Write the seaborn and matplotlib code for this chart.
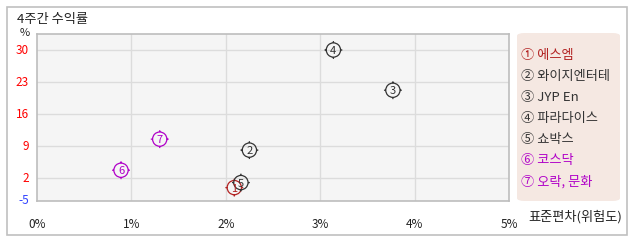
import matplotlib
matplotlib.use("Agg")
import matplotlib.pyplot as plt
import seaborn as sns
import pandas as pd
import numpy as np
from matplotlib.path import Path
from matplotlib.patches import FancyBboxPatch, Rectangle

# ---- data ----
names = ["에스엠", "와이지엔터테", "JYP En", "파라다이스", "쇼박스", "코스닥", "오락, 문화"]
nums = ["1", "2", "3", "4", "5", "6", "7"]
circled = ["①", "②", "③", "④", "⑤", "⑥", "⑦"]
risk = [2.09, 2.25, 3.77, 3.14, 2.16, 0.89, 1.30]      # 표준편차 (%)
ret = [-0.1, 8.1, 21.2, 30.0, 1.0, 3.7, 10.5]          # 4주간 수익률 (%)
colors = ["#b22222", "#333333", "#333333", "#333333", "#333333", "#b000c8", "#b000c8"]
x_ticks = [0, 1, 2, 3, 4, 5]
x_labels = ["0%", "1%", "2%", "3%", "4%", "5%"]
y_ticks = [2, 9, 16, 23, 30]
y_bottom_label = "-5"

sns.set_theme(style="white")
plt.rcParams["font.family"] = ["Noto Sans CJK KR", "DejaVu Sans"]

fig = plt.figure(figsize=(6.38, 2.42), dpi=100)
W, H = 638, 242

def fx(px):
    return px / W

def fy(py):
    return 1 - py / H

# outer border
fig.patches.append(Rectangle((fx(7), fy(235)), fx(627) - fx(7), fy(7) - fy(235),
                             transform=fig.transFigure, fill=False,
                             edgecolor="#c0c0c0", linewidth=1.2))

ax = fig.add_axes([fx(37), fy(201), fx(509) - fx(37), fy(34) - fy(201)])
ax.set_facecolor("#f5f5f5")

df = pd.DataFrame({"name": names, "risk": risk, "ret": ret})

# circle + small tick marker
circ = Path.unit_circle()
t0, t1 = 1.0, 1.25
ticks_verts = [(0, t0), (0, t1), (0, -t0), (0, -t1), (t0, 0), (t1, 0), (-t0, 0), (-t1, 0)]
ticks_codes = [Path.MOVETO, Path.LINETO] * 4
tick_path = Path(ticks_verts, ticks_codes)
marker_path = Path.make_compound_path(circ, tick_path)

sns.scatterplot(data=df, x="risk", y="ret", hue="name", palette=dict(zip(names, colors)),
                marker=marker_path, s=165, linewidth=0.9, legend=False, ax=ax, zorder=3)
coll = ax.collections[-1]
fc = coll.get_facecolors()
coll.set_edgecolors(fc)
coll.set_facecolors("none")

for xv, yv, n, c in zip(risk, ret, nums, colors):
    ax.text(xv, yv, n, color=c, fontsize=8, ha="center", va="center_baseline", zorder=4)

ymin = 2 - 7 * 23 / 32
ax.set_xlim(0, 5)
ax.set_ylim(ymin, 33.5)
ax.set_xticks(x_ticks[1:-1], minor=False)
ax.set_yticks(y_ticks)
ax.grid(True, color="#dcdcdc", linewidth=1.0)
ax.set_axisbelow(True)
ax.set_xticklabels([])
ax.set_yticklabels([])
ax.tick_params(length=0)
for sp in ax.spines.values():
    sp.set_color("#bdbdbd")
    sp.set_linewidth(1.2)
ax.set_xlabel("")
ax.set_ylabel("")

# tick labels
for xv, lab in zip(x_ticks, x_labels):
    ax.text(xv, -0.1, lab, transform=ax.get_xaxis_transform(), ha="center", va="top",
            fontsize=8.5, color="#222222")
for yv in y_ticks:
    ax.text(-0.017, yv, str(yv), transform=ax.get_yaxis_transform(), ha="right",
            va="center", fontsize=8.5, color="red")
ax.text(-0.017, ymin, y_bottom_label, transform=ax.get_yaxis_transform(), ha="right",
        va="center", fontsize=8.5, color="#3344ff")
fig.text(fx(25), fy(33), "%", ha="center", va="center", fontsize=8, color="#222222")
fig.text(fx(528), fy(217), "표준편차(위험도)", ha="left", va="center", fontsize=9.5,
         color="#222222")
fig.text(fx(17), fy(20), "4주간 수익률", ha="left", va="center", fontsize=9.5,
         color="#222222")

# legend box
fig.patches.append(FancyBboxPatch((fx(517), fy(201)), fx(620) - fx(517), fy(33) - fy(201),
                                  boxstyle="round,pad=0,rounding_size=0.012",
                                  transform=fig.transFigure, facecolor="#f5e8e2",
                                  edgecolor="none"))
y0 = 55
for i, (cc, n, c) in enumerate(zip(circled, names, colors)):
    fig.text(fx(521), fy(y0 + i * 21.1), cc + " " + n, ha="left", va="center",
             fontsize=9.5, color=c)

fig.savefig("out.png", dpi=100)
